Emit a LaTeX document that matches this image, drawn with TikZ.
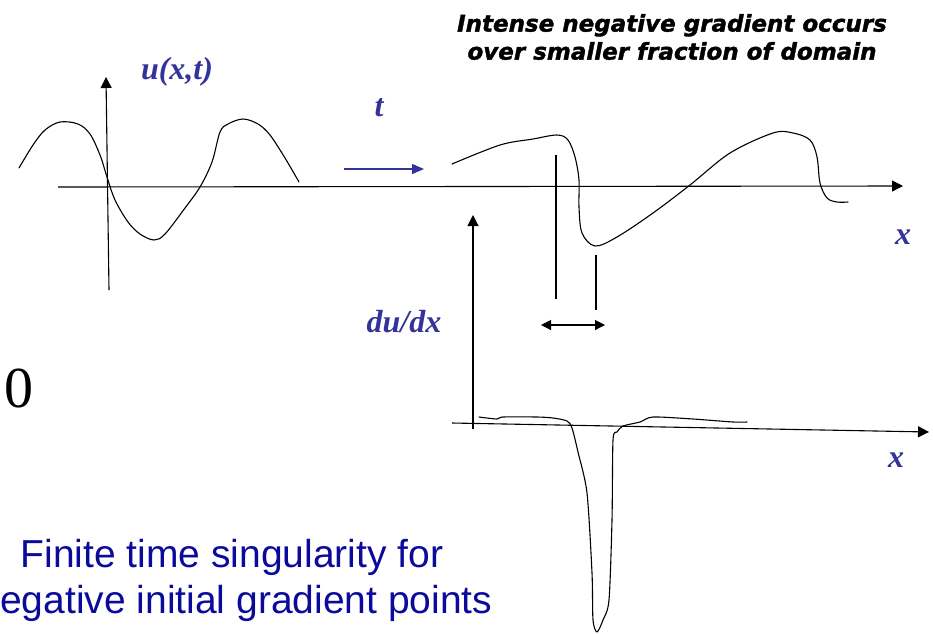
\documentclass[tikz,border=0pt]{standalone}
\usepackage{fontspec}
\setmainfont{Liberation Serif}
\newfontfamily\titlefont[FakeBold=1.5]{DejaVu Sans}
\newfontfamily\arialfont{Liberation Sans}
\usetikzlibrary{arrows.meta}
\definecolor{lblblue}{RGB}{51,51,153}
\definecolor{txtblue}{RGB}{10,10,155}
\begin{document}
\begin{tikzpicture}[x=1pt,y=-1pt,
  curve/.style={line width=1.1pt, line join=round, line cap=round},
  axis/.style={line width=1.1pt, -{Triangle[length=11pt,width=11pt]}},
  lbl/.style={text=lblblue, font=\fontsize{32}{36}\selectfont\bfseries\itshape, inner sep=0pt},
  ttl/.style={font=\titlefont\fontsize{23}{28}\selectfont\bfseries\itshape, align=center, inner sep=0pt},
  big/.style={text=txtblue, font=\arialfont\fontsize{39}{46}\selectfont, inner sep=0pt}]
\useasboundingbox (0,0) rectangle (933,633);
% axes coordinates
\coordinate (ax1a) at (58,187);
\coordinate (ax1b) at (903,186);
\coordinate (ay1a) at (109,290);
\coordinate (ay1b) at (106,77);
\coordinate (ax2a) at (452,423);
\coordinate (ax2b) at (929,432);
\coordinate (ay2a) at (473,429);
\coordinate (ay2b) at (473,215);
\draw[axis] (ax1a) -- (ax1b);
\draw[axis] (ay1a) -- (ay1b);
\draw[axis] (ax2a) -- (ax2b);
\draw[axis] (ay2a) -- (ay2b);
% time arrow
\coordinate (ta) at (344,169);
\coordinate (tb) at (424,169);
\draw[line width=1.3pt, draw=lblblue, -{Triangle[length=12pt,width=10pt]}, lblblue] (ta) -- (tb);
% initial curve
\draw[curve] plot[smooth, tension=0.55] coordinates {(19,168) (33,145) (45,130) (60,122) (78,124) (90,134) (100,155) (107,177) (115,200) (128,222) (140,234) (154,240) (165,234) (185,208) (200,187) (212,162) (220,132) (228,124) (243,119) (258,124) (270,135) (285,158) (299,182)};
% steepened curve
\draw[curve] plot[smooth, tension=0.55] coordinates {(452,164) (500,145) (533,139) (557,135) (568,140) (575,157) (579,180) (579,207) (582,233) (595,246) (617,237) (653,213) (690,185) (730,153) (773,133) (793,133) (810,140) (817,157) (820,183) (827,198) (837,202) (848,202)};
% derivative curve
\draw[curve] plot[smooth, tension=0.45] coordinates {(479,417) (497,419) (503,417) (537,417) (553,418) (567,421) (572,428) (578,452) (587,493) (592,573) (593,620) (597,632) (603,620) (609,600) (612,520) (613,440) (617,432) (623,426) (640,422) (653,417) (693,419) (733,422) (747,422)};
% width markers
\coordinate (m1a) at (556,155);
\coordinate (m1b) at (556,299);
\coordinate (m2a) at (596,255);
\coordinate (m2b) at (596,310);
\draw[line width=1.1pt] (m1a) -- (m1b);
\draw[line width=1.1pt] (m2a) -- (m2b);
\coordinate (wa) at (541,325);
\coordinate (wb) at (605,325);
\draw[line width=1.1pt, {Triangle[length=10pt,width=10pt]}-{Triangle[length=10pt,width=10pt]}] (wa) -- (wb);
% labels
\node[lbl] (u) at (177,72) {u(x,t)};
\node[lbl] (t) at (379,108) {t};
\node[lbl] (x1) at (903,237) {x};
\node[lbl] (x2) at (896,460) {x};
\node[lbl] (dudx) at (404,322) {du/dx};
\node[ttl] (title) at (672,37) {Intense negative gradient occurs\\over smaller fraction of domain};
\node[font=\fontsize{58}{60}\selectfont, inner sep=0pt] (zero) at (19,388) {0};
\node[big] (fin1) at (232,557) {Finite time singularity for};
\node[big, anchor=west] (fin2) at (0,603) {egative initial gradient points};
\end{tikzpicture}
\end{document}
